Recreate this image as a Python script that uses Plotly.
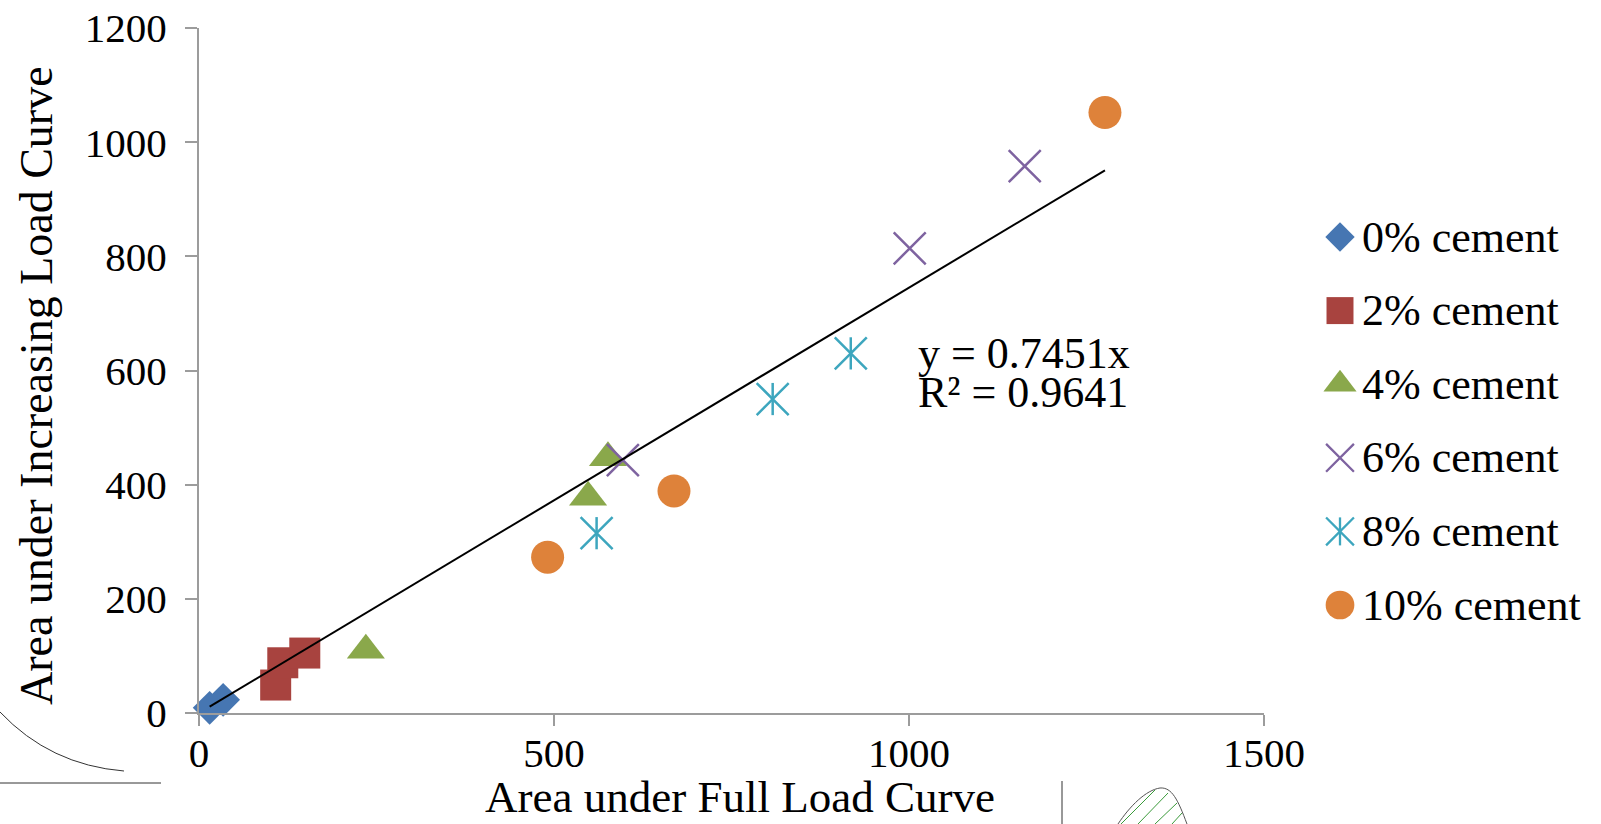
import numpy as np
import plotly.graph_objects as go

# ---------------- data ----------------
series_names = ["0% cement", "2% cement", "4% cement", "6% cement", "8% cement", "10% cement"]
x_0 = [15, 34]
y_0 = [9, 23]
x_2 = [108, 118, 149]
y_2 = [49, 88, 105]
x_4 = [235, 548, 576]
y_4 = [110, 378, 447]
x_6 = [597, 1001, 1163]
y_6 = [443, 814, 958]
x_8 = [560, 808, 918]
y_8 = [315, 550, 630]
x_10 = [491, 669, 1276]
y_10 = [273, 389, 1052]

slope = 0.7451
r_squared = 0.9641

x_ticks = [0, 500, 1000, 1500]
y_ticks = [0, 200, 400, 600, 800, 1000, 1200]

# ---------------- style ----------------
W, H = 1601, 824
FONT = "Liberation Serif"
AXIS_GRAY = "#9C9C9C"
colors = ["#4676B2", "#A8433F", "#8AA84B", "#7E63A0", "#3DA6BE", "#DE823A"]

def fx(p):
    return p / W

def fy(p):
    return 1 - p / H

fig = go.Figure()

xs = [x_0, x_2, x_4, x_6, x_8, x_10]
ys = [y_0, y_2, y_4, y_6, y_8, y_10]

filled = {
    0: dict(symbol="diamond", size=26),
    1: dict(symbol="square", size=31),
    2: dict(symbol="triangle-up", size=33),
    5: dict(symbol="circle", size=33),
}

for i in range(6):
    if i in filled:
        fig.add_trace(go.Scatter(
            x=xs[i], y=ys[i], mode="markers", name=series_names[i], cliponaxis=False,
            marker=dict(symbol=filled[i]["symbol"], size=filled[i]["size"], color=colors[i],
                        line=dict(width=0))))
    elif i == 3:
        fig.add_trace(go.Scatter(
            x=xs[i], y=ys[i], mode="markers", name=series_names[i], cliponaxis=False,
            marker=dict(symbol="x-thin", size=32, color=colors[i],
                        line=dict(width=2.5, color=colors[i]))))
    else:
        fig.add_trace(go.Scatter(
            x=xs[i], y=ys[i], mode="markers", name=series_names[i], cliponaxis=False,
            marker=dict(symbol="x-thin", size=32, color=colors[i],
                        line=dict(width=2.5, color=colors[i]))))
        fig.add_trace(go.Scatter(
            x=xs[i], y=ys[i], mode="markers", name=series_names[i], cliponaxis=False,
            showlegend=False,
            marker=dict(symbol="line-ns", size=23, color=colors[i],
                        line=dict(width=2.5, color=colors[i]))))

# trendline through origin (y = slope * x) over the data range
all_x = np.concatenate([np.array(v, dtype=float) for v in xs])
fit_x = np.array([all_x.min(), all_x.max()])
fig.add_trace(go.Scatter(x=fit_x, y=slope * fit_x, mode="lines",
                         line=dict(color="black", width=2), showlegend=False, cliponaxis=False))

# ---------------- manual legend (pixel-space overlay axes) ----------------
leg_x = 1340
leg_text_x = 1360
leg_top = 237
leg_step = 73.6
leg_scale = 0.87
leg_defs = [
    [("diamond", 26, 0)],
    [("square", 31, 0)],
    [("triangle-up", 33, 0)],
    [("x-thin", 32, 2.3)],
    [("x-thin", 32, 2.3), ("line-ns", 23, 2.3)],
    [("circle", 33, 0)],
]
for i, defs in enumerate(leg_defs):
    yy = leg_top + i * leg_step
    for sym, sz, lw in defs:
        fig.add_trace(go.Scatter(
            x=[leg_x], y=[yy], xaxis="x2", yaxis="y2", mode="markers", showlegend=False,
            hoverinfo="skip", cliponaxis=False,
            marker=dict(symbol=sym, size=sz * leg_scale, color=colors[i],
                        line=dict(width=lw, color=colors[i]))))
    fig.add_annotation(x=fx(leg_text_x), y=fy(yy), xref="paper", yref="paper",
                       text=series_names[i], showarrow=False, xanchor="left", yanchor="middle",
                       font=dict(family=FONT, size=44, color="black"))

# ---------------- equation annotation ----------------
fig.add_annotation(x=fx(916), y=fy(353), xref="paper", yref="paper",
                   text=f"y = {slope:.4f}x", showarrow=False, xanchor="left", yanchor="middle",
                   font=dict(family=FONT, size=44, color="black"))
fig.add_annotation(x=fx(916), y=fy(393), xref="paper", yref="paper",
                   text=f"R² = {r_squared:.4f}", showarrow=False, xanchor="left", yanchor="middle",
                   font=dict(family=FONT, size=44, color="black"))

# ---------------- axis titles ----------------
fig.add_annotation(x=fx(740), y=fy(797), xref="paper", yref="paper",
                   text="Area under Full Load Curve", showarrow=False,
                   xanchor="center", yanchor="middle",
                   font=dict(family=FONT, size=45, color="black"))
fig.add_annotation(x=fx(36), y=fy(386), xref="paper", yref="paper",
                   text="Area under Increasing Load Curve", showarrow=False, textangle=-90,
                   xanchor="center", yanchor="middle",
                   font=dict(family=FONT, size=46, color="black"))

# ---------------- page artifacts ----------------
art = dict(color="#333333", width=1)
def P(x, y):
    return f"{fx(x):.5f},{fy(y):.5f}"
shapes = [
    dict(type="path", xref="paper", yref="paper",
         path=f"M{P(0,712)} Q{P(50,765)} {P(124,771)}", line=art),
    dict(type="line", xref="paper", yref="paper", x0=fx(0), y0=fy(783), x1=fx(161), y1=fy(783),
         line=dict(color="#333333", width=1)),
    dict(type="line", xref="paper", yref="paper", x0=fx(1062), y0=fy(781), x1=fx(1062), y1=fy(824),
         line=dict(color="#333333", width=1)),
    dict(type="path", xref="paper", yref="paper",
         path=f"M{P(1118,824)} C{P(1130,806)} {P(1146,790)} {P(1160,788)} C{P(1172,787)} {P(1178,800)} {P(1187,824)}",
         line=dict(color="#555555", width=1)),
]
for (a, b, c, d) in [(1121, 824, 1155, 790), (1138, 824, 1168, 793), (1155, 824, 1177, 803), (1172, 824, 1182, 813)]:
    shapes.append(dict(type="line", xref="paper", yref="paper", x0=fx(a), y0=fy(b), x1=fx(c), y1=fy(d),
                       line=dict(color="#3A9A3A", width=1)))

fig.update_layout(
    width=W, height=H,
    margin=dict(l=0, r=0, t=0, b=0),
    paper_bgcolor="white", plot_bgcolor="rgba(0,0,0,0)",
    showlegend=False,
    shapes=shapes,
    xaxis=dict(domain=[fx(199), fx(1264)], range=[0, 1500], tickvals=x_ticks,
               showgrid=False, zeroline=False, showline=True, linecolor=AXIS_GRAY, linewidth=2,
               ticks="outside", ticklen=11, tickwidth=2, tickcolor=AXIS_GRAY,
               tickfont=dict(family=FONT, size=41, color="black"), ticklabelstandoff=-8,
               automargin=False, fixedrange=True),
    yaxis=dict(domain=[1 - 713 / H, 1 - 28 / H], range=[0, 1200], tickvals=y_ticks,
               showgrid=False, zeroline=False, showline=True, linecolor=AXIS_GRAY, linewidth=2,
               ticks="outside", ticklen=12, tickwidth=2, tickcolor=AXIS_GRAY,
               tickfont=dict(family=FONT, size=41, color="black"), ticklabelstandoff=10,
               automargin=False, fixedrange=True),
    xaxis2=dict(domain=[0, 1], range=[0, W], visible=False, anchor="y2", fixedrange=True),
    yaxis2=dict(domain=[0, 1], range=[H, 0], visible=False, anchor="x2", fixedrange=True),
)

fig.write_html(
    "out.html",
    config={"displayModeBar": False},
    post_script="document.body.style.margin='0';document.body.style.overflow='hidden';",
)
